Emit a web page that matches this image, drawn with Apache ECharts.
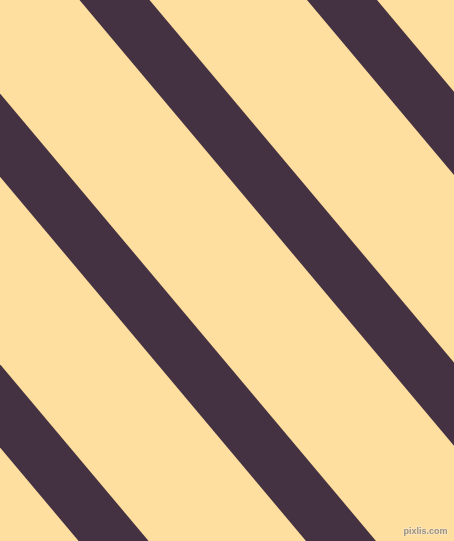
<!DOCTYPE html>
<html>
<head>
<meta charset="utf-8">
<script src="https://cdn.jsdelivr.net/npm/echarts@6/dist/echarts.min.js"></script>
<style>
html,body{margin:0;padding:0;background:#FEDF9F;}
#chart{width:454px;height:541px;}
</style>
</head>
<body>
<div id="chart"></div>
<script>
// Stripe edges: x position where each edge meets the top (y=0) and bottom (y=541)
var stripeNames = ['stripe 1', 'stripe 2', 'stripe 3', 'stripe 4'];
var leftEdgeTop = [-376, -148.5, 79.5, 307];
var rightEdgeTop = [-306, -78.5, 149.5, 377];
var leftEdgeBottom = [78.6, 306, 534, 761.6];
var rightEdgeBottom = [148.6, 376, 604, 831.6];
var yTop = 0;
var yBottom = 541;

var data = stripeNames.map(function (n, i) {
  return { name: n, value: [leftEdgeTop[i], rightEdgeTop[i], rightEdgeBottom[i], leftEdgeBottom[i]] };
});

var chart = echarts.init(document.getElementById('chart'), null, { renderer: 'canvas' });
chart.setOption({
  backgroundColor: '#FEDF9F',
  animation: false,
  grid: { left: 0, right: 0, top: 0, bottom: 0 },
  xAxis: { type: 'value', min: 0, max: 454, show: false },
  yAxis: { type: 'value', min: 0, max: 541, inverse: true, show: false },
  graphic: [{
    type: 'text',
    right: 6,
    bottom: 4,
    style: {
      text: 'pixlis.com',
      font: 'bold 9px "Liberation Sans"',
      fill: '#9c8f7e',
      stroke: '#f6ead0',
      lineWidth: 1
    },
    z: 100
  }],
  series: [{
    type: 'custom',
    clip: true,
    data: data,
    renderItem: function (params, api) {
      var p1 = api.coord([api.value(0), yTop]);
      var p2 = api.coord([api.value(1), yTop]);
      var p3 = api.coord([api.value(2), yBottom]);
      var p4 = api.coord([api.value(3), yBottom]);
      return {
        type: 'polygon',
        shape: { points: [p1, p2, p3, p4] },
        style: { fill: '#443142' }
      };
    }
  }]
});
</script>
</body>
</html>
